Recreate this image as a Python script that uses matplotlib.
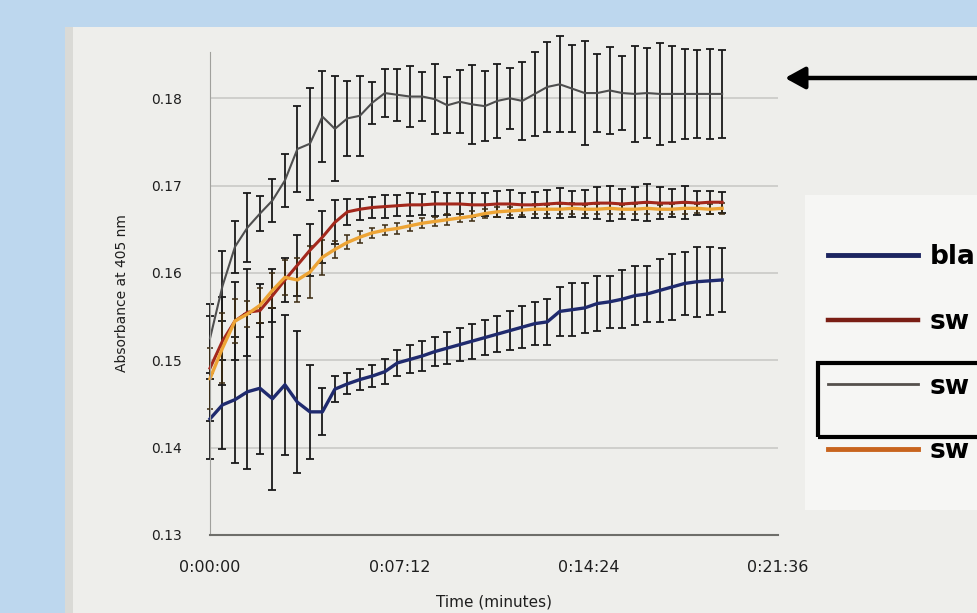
import matplotlib
matplotlib.use('Agg')
import matplotlib.pyplot as plt
import matplotlib.ticker as mticker
from matplotlib.lines import Line2D
from matplotlib.patches import Rectangle
import numpy as np

# reading interval of the plate reader (s) and number of readings
intervalo = 28.5
n_leituras = 42
tempo_s = np.arange(n_leituras) * intervalo

# absorbance at 405 nm (mean) and error bar size
blank = [0.1433, 0.1449, 0.1455, 0.1464, 0.1468, 0.1456, 0.1472, 0.1452, 0.1441, 0.1441,
         0.1467, 0.1473, 0.1478, 0.1482, 0.1487, 0.1497, 0.1501, 0.1505, 0.1510, 0.1514,
         0.1518, 0.1522, 0.1526, 0.1530, 0.1534, 0.1538, 0.1542, 0.1544, 0.1556, 0.1558,
         0.1560, 0.1565, 0.1567, 0.1570, 0.1574, 0.1576, 0.1580, 0.1584, 0.1588, 0.1590,
         0.1591, 0.1592]
blank_err = [0.0046, 0.0051, 0.0072, 0.0089, 0.0075, 0.0104, 0.0080, 0.0081, 0.0054, 0.0027,
             0.0015, 0.0012, 0.0012, 0.0013, 0.0014, 0.0015, 0.0016, 0.0017, 0.0017, 0.0018,
             0.0019, 0.0020, 0.0020, 0.0021, 0.0022, 0.0024, 0.0025, 0.0026, 0.0028, 0.0030,
             0.0029, 0.0031, 0.0030, 0.0033, 0.0034, 0.0032, 0.0036, 0.0038, 0.0036, 0.0040,
             0.0039, 0.0037]

sw1 = [0.1491, 0.1522, 0.1545, 0.1555, 0.1557, 0.1574, 0.1592, 0.1609, 0.1626, 0.1641,
       0.1658, 0.1670, 0.1673, 0.1675, 0.1676, 0.1677, 0.1678, 0.1678, 0.1679, 0.1679,
       0.1679, 0.1678, 0.1678, 0.1679, 0.1679, 0.1678, 0.1678, 0.1679, 0.1680, 0.1679,
       0.1679, 0.1680, 0.1680, 0.1679, 0.1680, 0.1681, 0.1680, 0.1680, 0.1681, 0.1680,
       0.1681, 0.1681]
sw1_err = [0.0060, 0.0050, 0.0045, 0.0050, 0.0030, 0.0030, 0.0025, 0.0035, 0.0030, 0.0030,
           0.0025, 0.0015, 0.0012, 0.0012, 0.0013, 0.0012, 0.0013, 0.0012, 0.0014, 0.0013,
           0.0012, 0.0014, 0.0013, 0.0015, 0.0016, 0.0014, 0.0015, 0.0016, 0.0017, 0.0015,
           0.0016, 0.0018, 0.0020, 0.0017, 0.0019, 0.0021, 0.0018, 0.0016, 0.0019, 0.0014,
           0.0013, 0.0012]

sw2 = [0.1525, 0.1585, 0.1630, 0.1652, 0.1668, 0.1683, 0.1706, 0.1742, 0.1748, 0.1779,
       0.1765, 0.1777, 0.1780, 0.1795, 0.1806, 0.1804, 0.1802, 0.1802, 0.1799, 0.1792,
       0.1796, 0.1793, 0.1791, 0.1797, 0.1800, 0.1797, 0.1805, 0.1813, 0.1816, 0.1811,
       0.1806, 0.1806, 0.1809, 0.1806, 0.1805, 0.1806, 0.1805, 0.1805, 0.1805, 0.1805,
       0.1805, 0.1805]
sw2_err = [0.0040, 0.0040, 0.0030, 0.0040, 0.0020, 0.0025, 0.0030, 0.0049, 0.0064, 0.0052,
           0.0060, 0.0043, 0.0046, 0.0024, 0.0027, 0.0030, 0.0035, 0.0028, 0.0040, 0.0032,
           0.0036, 0.0045, 0.0040, 0.0042, 0.0035, 0.0045, 0.0048, 0.0052, 0.0055, 0.0050,
           0.0060, 0.0045, 0.0050, 0.0042, 0.0055, 0.0052, 0.0058, 0.0055, 0.0052, 0.0050,
           0.0052, 0.0050]

sw3 = [0.1479, 0.1514, 0.1545, 0.1553, 0.1563, 0.1580, 0.1595, 0.1592, 0.1601, 0.1618,
       0.1627, 0.1635, 0.1641, 0.1646, 0.1649, 0.1651, 0.1654, 0.1657, 0.1659, 0.1661,
       0.1663, 0.1665, 0.1668, 0.1670, 0.1671, 0.1672, 0.1673, 0.1673, 0.1673, 0.1674,
       0.1673, 0.1673, 0.1674, 0.1673, 0.1673, 0.1674, 0.1673, 0.1673, 0.1674, 0.1674,
       0.1673, 0.1674]
sw3_err = [0.0035, 0.0040, 0.0025, 0.0015, 0.0020, 0.0020, 0.0020, 0.0025, 0.0030, 0.0020,
           0.0010, 0.0008, 0.0007, 0.0006, 0.0006, 0.0006, 0.0006, 0.0006, 0.0005, 0.0006,
           0.0005, 0.0006, 0.0005, 0.0006, 0.0005, 0.0006, 0.0006, 0.0005, 0.0006, 0.0006,
           0.0005, 0.0006, 0.0006, 0.0005, 0.0006, 0.0006, 0.0005, 0.0006, 0.0006, 0.0005,
           0.0006, 0.0006]

# only the start of each legend label is visible in the photo
legenda = ['bla', 'sw', 'sw', 'sw']

W, H = 978, 613
fig = plt.figure(figsize=(W / 100, H / 100), dpi=100)
fig.patch.set_facecolor('#BDD7EE')

# the photographed sheet and the white legend area
fig.add_artist(Rectangle((65 / W, 0), 1, 1 - 27 / H, transform=fig.transFigure,
                         facecolor='#EEEEEB', edgecolor='none', zorder=-10))
fig.add_artist(Rectangle((65 / W, 0), 8 / W, 1 - 27 / H, transform=fig.transFigure,
                         facecolor='#DADAD6', edgecolor='none', zorder=-9))
fig.add_artist(Rectangle((805 / W, 1 - 510 / H), 1, 315 / H, transform=fig.transFigure,
                         facecolor='#F6F6F4', edgecolor='none', zorder=-9))

ax = fig.add_axes([210 / W, 1 - 535 / H, 568 / W, 483 / H])
ax.set_facecolor('none')

estilo_erro = dict(ecolor='#1A1A1A', elinewidth=1.3, capsize=3.2, capthick=1.3, clip_on=False)
ax.errorbar(tempo_s, blank, yerr=blank_err, color='#1F2A6E', lw=2.4, **estilo_erro)
ax.errorbar(tempo_s, sw1, yerr=sw1_err, color='#A3281C', lw=2.2, **estilo_erro)
ax.errorbar(tempo_s, sw2, yerr=sw2_err, color='#4E4E4E', lw=1.5, **estilo_erro)
ax.errorbar(tempo_s, sw3, yerr=sw3_err, color='#EDA435', lw=2.4,
            ecolor='#3A2A10', elinewidth=1.1, capsize=2, capthick=1.1, clip_on=False)

ax.set_xlim(0, 1296)
ax.set_ylim(0.13, 0.1853)
ax.set_xticks([0, 432, 864, 1296])
ax.xaxis.set_major_formatter(mticker.FuncFormatter(
    lambda s, pos: f"{int(s // 3600)}:{int(s % 3600 // 60):02d}:{int(s % 60):02d}"))
ax.set_yticks([0.13, 0.14, 0.15, 0.16, 0.17, 0.18])
ax.yaxis.set_major_formatter(mticker.FormatStrFormatter('%.2f'))
ax.grid(axis='y', color='#C9C9C6', lw=1.2)
ax.set_axisbelow(True)
for lado in ['top', 'right']:
    ax.spines[lado].set_visible(False)
ax.spines['left'].set_color('#A0A09C')
ax.spines['bottom'].set_color('#6E6E6A')
ax.spines['bottom'].set_linewidth(1.5)
ax.tick_params(axis='both', length=0, labelcolor='#1E1E1E')
ax.tick_params(axis='y', pad=20, labelsize=10)
ax.tick_params(axis='x', pad=18, labelsize=11.5)
ax.set_xlabel('Time (minutes)', fontsize=11, color='#1E1E1E', labelpad=14)
ax.set_ylabel('Absorbance at 405 nm', fontsize=10, color='#1E1E1E', labelpad=16)

# legend on the right (cut by the edge of the photo)
handles = [Line2D([], [], color='#1C2560', lw=3.5),
           Line2D([], [], color='#7A1E14', lw=3.2),
           Line2D([], [], color='#55504C', lw=2.0),
           Line2D([], [], color='#C8641E', lw=3.5)]
fig.legend(handles, legenda, loc='upper left', bbox_to_anchor=(828 / W, 1 - 244 / H),
           frameon=False, borderpad=0, borderaxespad=0, handlelength=3.4,
           handletextpad=0.45, labelspacing=1.47,
           prop={'size': 19, 'weight': 'bold'})
fig.add_artist(Rectangle((818 / W, 1 - 437 / H), 0.3, 74 / H, transform=fig.transFigure,
                         facecolor='none', edgecolor='black', lw=3))

# arrow pointing at the grey curve
plt.annotate('', xy=(785 / W, 1 - 78 / H), xycoords='figure fraction',
             xytext=(1.01, 1 - 78 / H), textcoords='figure fraction',
             arrowprops=dict(arrowstyle='-|>,head_length=0.4,head_width=0.22',
                             mutation_scale=30, lw=3.2, color='black',
                             shrinkA=0, shrinkB=0))

plt.savefig('out.png', dpi=100)
